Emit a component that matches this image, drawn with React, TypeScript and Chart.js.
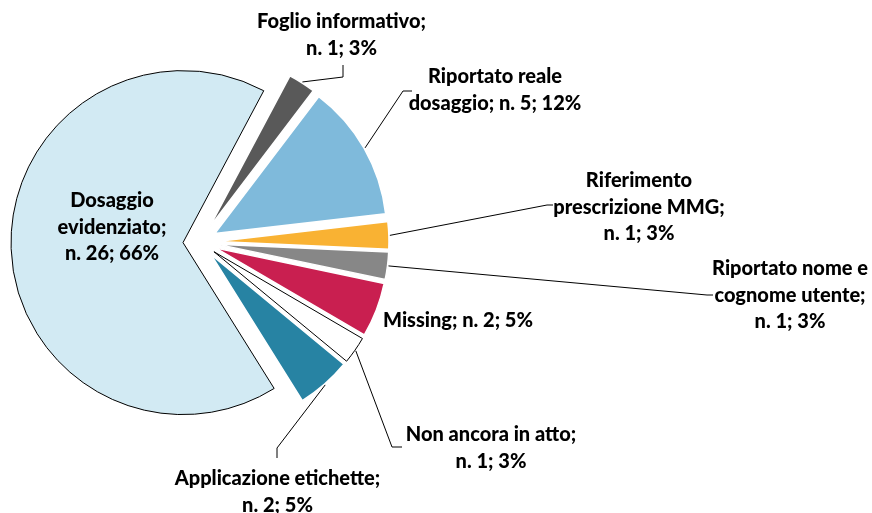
import React, { useEffect, useRef } from "react";
import { Chart, registerables, ArcElement } from "chart.js";

Chart.register(...registerables);

// ---------- data ----------
const categories = [
  "Foglio informativo",
  "Riportato reale dosaggio",
  "Riferimento prescrizione MMG",
  "Riportato nome e cognome utente",
  "Missing",
  "Non ancora in atto",
  "Applicazione etichette",
  "Dosaggio evidenziato",
];
const counts = [1, 5, 1, 1, 2, 1, 2, 26];
const percents = [3, 12, 3, 3, 5, 3, 5, 66];

// ---------- style ----------
const colors = ["#595959", "#7FBADB", "#F9B233", "#878787", "#C91F50", "#FFFFFF", "#2783A3", "#D2EAF3"];
const borderColors = ["#FFFFFF", "#FFFFFF", "#FFFFFF", "#FFFFFF", "#FFFFFF", "#000000", "#FFFFFF", "#000000"];
const borderWidths = [1.5, 1.5, 1.5, 1.5, 1.5, 1, 1.5, 1];
const EXPLODE = 17;
const RADIUS = 172;
const FONT = "900 20px Lato";
const LINE_H = 26.7;

// label layout: words per line, anchor (center x, first baseline), leader polyline (after start on slice)
const labelLayout = [
  { words: [2, 3], x: 341.5, y: 28, leader: [[343, 77], [343, 65]] },
  { words: [2, 4], x: 495, y: 83, leader: [[403, 91], [412, 91]] },
  { words: [1, 2, 3], x: 639, y: 187, leader: [[547, 205], [553, 205]] },
  { words: [3, 2, 3], x: 790, y: 275, leader: [[707, 295], [713, 295]] },
  { words: [5], x: 458, y: 327, leader: null },
  { words: [4, 3], x: 491, y: 441, leader: [[392, 447], [402, 447]] },
  { words: [2, 3], x: 277.5, y: 485, leader: [[277, 448], [277, 458]] },
  { words: [1, 1, 3], x: 112, y: 207, leader: null },
];

function labelLines(i: number): string[] {
  const words = `${categories[i]}; n. ${counts[i]}; ${percents[i]}%`.split(" ");
  const out: string[] = [];
  let k = 0;
  for (const n of labelLayout[i].words) {
    out.push(words.slice(k, k + n).join(" "));
    k += n;
  }
  return out;
}

// exploded slices: translate each arc along its mid angle without enlarging it
const proto: any = ArcElement.prototype;
if (!proto.__exploded) {
  const orig = proto.draw;
  proto.draw = function (ctx: CanvasRenderingContext2D) {
    const half = (this.startAngle + this.endAngle) / 2;
    ctx.save();
    ctx.translate(Math.cos(half) * EXPLODE, Math.sin(half) * EXPLODE);
    orig.call(this, ctx);
    ctx.restore();
  };
  proto.__exploded = true;
}

const labelPlugin = {
  id: "sliceLabels",
  afterDatasetsDraw(chart: any) {
    const ctx: CanvasRenderingContext2D = chart.ctx;
    const meta = chart.getDatasetMeta(0);
    ctx.save();
    ctx.strokeStyle = "#000000";
    ctx.lineWidth = 1;
    meta.data.forEach((arc: any, i: number) => {
      const L = labelLayout[i];
      const p = arc.getProps(["x", "y", "startAngle", "endAngle", "outerRadius"], true);
      const mid = (p.startAngle + p.endAngle) / 2;
      if (L.leader) {
        const r = EXPLODE + p.outerRadius + 1;
        ctx.beginPath();
        ctx.moveTo(p.x + Math.cos(mid) * r, p.y + Math.sin(mid) * r);
        L.leader.forEach((pt) => ctx.lineTo(pt[0], pt[1]));
        ctx.stroke();
      }
      ctx.font = FONT;
      ctx.fillStyle = "#000000";
      ctx.textAlign = "center";
      ctx.textBaseline = "alphabetic";
      labelLines(i).forEach((t, j) => ctx.fillText(t, L.x, L.y + j * LINE_H));
    });
    ctx.restore();
  },
};

export default function App() {
  const ref = useRef<HTMLCanvasElement>(null);
  useEffect(() => {
    if (!ref.current) return;
    const chart = new Chart(ref.current, {
      type: "pie",
      data: {
        labels: categories,
        datasets: [
          {
            data: counts,
            backgroundColor: colors,
            borderColor: borderColors,
            borderWidth: borderWidths,
            borderJoinStyle: "miter",
            offset: 0,
            hoverOffset: 0,
          } as any,
        ],
      },
      options: {
        animation: false,
        responsive: false,
        rotation: 28,
        radius: RADIUS,
        events: [],
        layout: { padding: { left: 0, top: 0, right: 472, bottom: 29 } },
        plugins: { legend: { display: false }, tooltip: { enabled: false } },
      } as any,
      plugins: [labelPlugin],
    });
    return () => chart.destroy();
  }, []);
  return (
    <div style={{ position: "fixed", left: 0, top: 0, width: 872, height: 513, background: "#ffffff" }}>
      <canvas ref={ref} width={872} height={513} style={{ display: "block" }} />
    </div>
  );
}
